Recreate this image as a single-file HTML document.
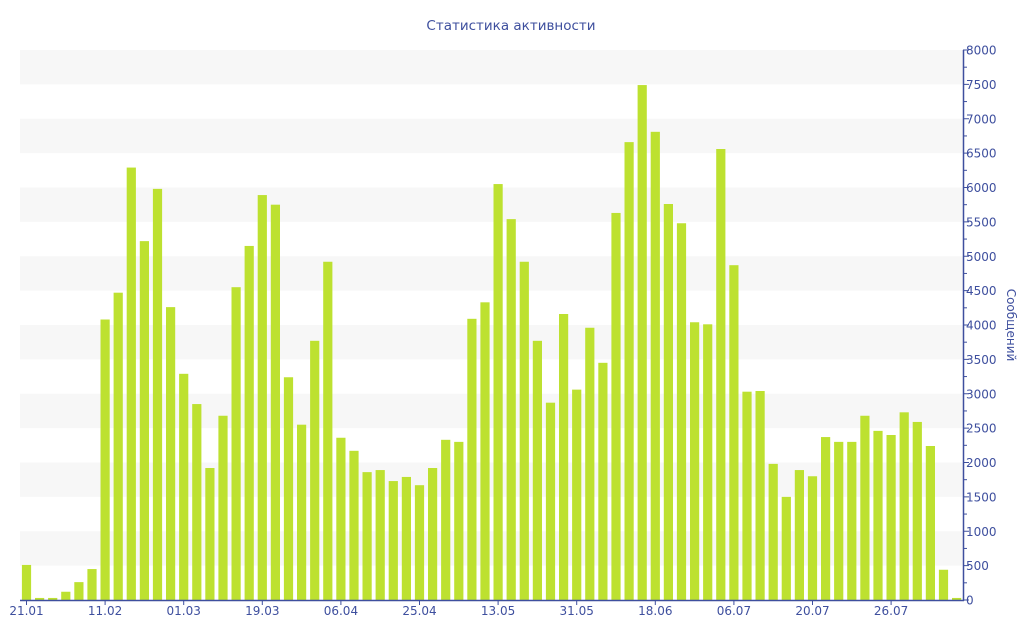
<!DOCTYPE html>
<html><head><meta charset="utf-8"><style>body{margin:0;background:#fff}svg{display:block}text{font-family:"DejaVu Sans","Liberation Sans",sans-serif;fill:#3e4f9e}</style></head>
<body>
<svg id="s" width="1024" height="640" xmlns="http://www.w3.org/2000/svg">
<text x="511" y="30" text-anchor="middle" font-size="13.5">Статистика активности</text>
<g id="bands"></g><g id="bars"></g><g id="ax"></g>
<text transform="translate(1007,325) rotate(90)" text-anchor="middle" font-size="12">Сообщений</text>
</svg>
<script>
const NS="http://www.w3.org/2000/svg";
function el(p,t,a,txt){const e=document.createElementNS(NS,t);for(const k in a)e.setAttribute(k,a[k]);if(txt)e.textContent=txt;document.getElementById(p).appendChild(e);}
const Y=v=>600-v*0.06875;
for(let v=500;v<8000;v+=1000)el("bands","rect",{x:20,y:Y(v+500),width:944,height:34.375,fill:"#f7f7f7"});
const d=[510,30,30,120,260,450,4080,4470,6290,5220,5980,4260,3290,2850,1920,2680,4550,5150,5890,5750,3240,2550,3770,4920,2360,2170,1860,1890,1730,1790,1670,1920,2330,2300,4090,4330,6050,5540,4920,3770,2870,4160,3060,3960,3450,5630,6660,7490,6810,5760,5480,4040,4010,6560,4870,3030,3040,1980,1500,1890,1800,2370,2300,2300,2680,2460,2400,2730,2590,2240,440,30];
d.forEach((v,i)=>{const c=26.5+i*13.1;el("bars","rect",{x:c-4.6,y:Y(v),width:9.2,height:v*0.06875,fill:"#bde130"});});
el("ax","line",{x1:20,y1:600.5,x2:964,y2:600.5,stroke:"#3e4f9e","stroke-width":1.5});
el("ax","line",{x1:963.5,y1:50,x2:963.5,y2:601,stroke:"#3e4f9e","stroke-width":1.5});
for(let v=0;v<=8000;v+=250){const y=Y(v);el("ax","line",{x1:963,y1:y,x2:v%500?967:969,y2:y,stroke:"#3e4f9e"});if(v%500==0)el("ax","text",{x:966,y:y+4.5,"font-size":"12"},String(v));}
const L=["21.01","11.02","01.03","19.03","06.04","25.04","13.05","31.05","18.06","06.07","20.07","26.07"];
L.forEach((t,i)=>{const c=26.5+i*6*13.1;el("ax","line",{x1:c,y1:600,x2:c,y2:605,stroke:"#3e4f9e"});el("ax","text",{x:c,y:615,"text-anchor":"middle","font-size":"12"},t);});
</script>
</body></html>
